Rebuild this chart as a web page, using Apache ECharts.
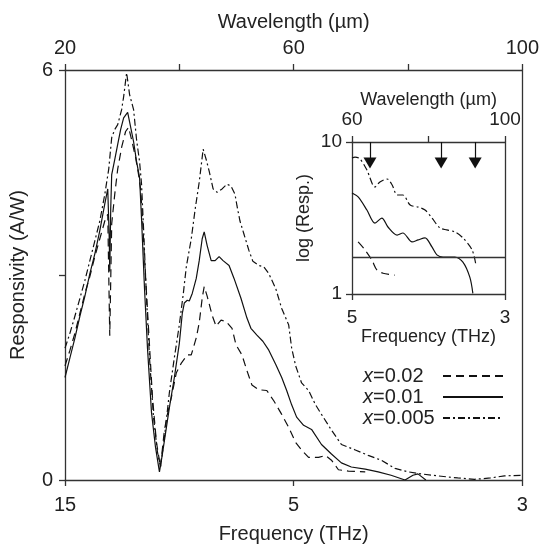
<!DOCTYPE html>
<html><head><meta charset="utf-8">
<script src="https://cdn.jsdelivr.net/npm/echarts@6/dist/echarts.min.js"></script>
<style>html,body{margin:0;padding:0;background:#fff}#c{width:542px;height:549px}</style>
</head><body><div id="c"></div>
<script>
// ---- data (wavelength in µm, responsivity in A/W) ----
const seriesNames = ['x=0.02', 'x=0.01', 'x=0.005'];

const main002 = [[20,1.67],[20.87,1.90],[21.74,2.15],[22.61,2.44],[23.48,2.73],[24.35,2.98],[25.22,3.27],[26.09,3.53],[26.96,3.79],[27.48,3.89],[27.83,2.11],[28.17,3.75],[28.70,4.18],[29.22,4.55],[29.91,4.87],[30.6,5.10],[31.13,5.16],[31.65,4.98],[32.35,4.72],[32.87,4.47],[33.22,4.26],[33.57,3.82],[33.91,3.24],[34.61,2.22],[35.30,1.21],[36.0,0.55],[36.7,0.19],[37.39,0.73],[37.91,0.96],[38.61,1.21],[39.48,1.57],[40.35,1.71],[41.39,1.83],[42.09,1.83],[42.96,2.08],[43.48,2.30],[44.0,2.66],[44.35,2.83],[44.87,2.69],[45.74,2.41],[46.43,2.25],[47.30,2.34],[48.17,2.32],[49.22,2.22],[49.91,1.98],[50.96,1.83],[51.83,1.60],[52.70,1.39],[53.91,1.32],[55.30,1.31],[56.52,1.16],[57.91,0.96],[59.13,0.77],[60.35,0.55],[61.39,0.44],[62.61,0.33],[64.35,0.33],[65.57,0.36],[66.61,0.29],[67.83,0.15],[69.57,0.13],[72.52,0.12]];

const main001 = [[20,1.50],[20.87,1.79],[21.74,2.08],[22.61,2.40],[23.48,2.69],[24.35,3.02],[25.22,3.31],[26.09,3.65],[26.96,4.04],[27.48,4.26],[27.74,3.53],[27.83,3.05],[28.0,3.97],[28.17,4.47],[28.70,4.69],[29.22,4.91],[29.74,5.13],[30.26,5.30],[30.96,5.38],[31.30,5.24],[32.0,4.95],[32.52,4.66],[33.04,4.43],[33.39,3.82],[33.91,2.80],[34.43,1.93],[35.13,0.99],[35.83,0.48],[36.52,0.12],[37.04,0.38],[37.74,0.77],[38.26,1.06],[39.13,1.50],[40,2.00],[40.52,2.44],[40.87,2.59],[41.39,2.63],[41.74,2.62],[42.26,2.73],[42.96,2.95],[43.48,3.21],[44.0,3.53],[44.35,3.63],[44.87,3.43],[45.57,3.21],[46.26,3.21],[46.96,3.27],[47.65,3.21],[48.70,3.14],[49.57,2.95],[50.78,2.66],[51.83,2.37],[52.52,2.22],[53.57,2.12],[54.61,2.03],[55.65,1.90],[56.87,1.69],[57.91,1.50],[58.78,1.31],[59.65,1.10],[60.52,0.92],[61.74,0.80],[63.13,0.74],[64.87,0.52],[66.61,0.38],[68.35,0.25],[70.09,0.19],[72.52,0.16],[74.78,0.12],[77.04,0.07],[79.48,0],[80.87,0.07],[81.74,0.09],[83.13,0]];

const main0005 = [[20,1.93],[20.87,2.15],[21.74,2.40],[22.61,2.66],[23.48,2.92],[24.35,3.21],[25.22,3.50],[26.09,3.79],[26.96,4.18],[27.65,4.55],[28.17,5.01],[28.70,5.13],[29.22,5.20],[29.91,5.42],[30.26,5.61],[30.78,5.96],[31.30,5.64],[32.0,5.42],[32.52,4.98],[33.04,4.66],[33.39,4.33],[33.74,3.68],[34.26,2.66],[34.78,1.79],[35.48,0.92],[36.17,0.41],[36.7,0.19],[37.39,0.62],[38.26,1.28],[39.13,1.79],[40,2.27],[40.70,2.73],[41.22,3.12],[42.09,3.53],[42.78,3.97],[43.48,4.36],[44.17,4.84],[44.70,4.69],[45.22,4.52],[45.91,4.26],[46.61,4.21],[47.48,4.26],[48.35,4.33],[49.04,4.30],[49.74,4.18],[50.09,4.01],[50.61,3.79],[51.30,3.60],[52.17,3.36],[52.87,3.20],[53.91,3.14],[54.78,3.12],[55.65,3.02],[56.87,2.80],[57.91,2.51],[59.13,2.27],[59.65,1.93],[60.35,1.67],[61.39,1.42],[62.61,1.31],[63.83,1.10],[64.87,0.96],[66.61,0.73],[68.35,0.52],[70.78,0.44],[73.04,0.36],[75.30,0.29],[77.74,0.17],[80,0.12],[82.26,0.09],[85.22,0.06],[88.70,0.03],[91.65,0.01],[94.43,0.03],[96.87,0.06],[100,0.07]];

// inset: log(Resp.) vs wavelength
const inset002 = [[61.6,2.20],[63.4,1.95],[65.2,1.67],[66.5,1.44],[68.1,1.37],[71.2,1.33]];
const inset001 = [[60,4.62],[61.6,4.35],[63.9,3.57],[66.0,2.93],[67.8,3.16],[69.4,2.76],[71.8,2.44],[73.3,2.52],[75.7,2.20],[77.3,2.27],[79.1,2.34],[80.9,2.04],[82.2,1.81],[83.8,1.75],[86.9,1.75],[89.0,1.62],[90.8,1.29],[91.6,1.01]];
const inset0005 = [[60,7.85],[60.8,7.96],[62.1,7.73],[63.9,6.54],[66.0,5.06],[67.3,5.46],[69.2,5.71],[70.5,5.21],[71.8,4.48],[73.3,4.48],[75.2,3.85],[77.3,3.73],[79.1,3.57],[80.9,3.16],[83.0,2.72],[84.8,2.64],[86.9,2.56],[89.0,2.34],[91.4,1.95],[92.4,1.55]];
const insetThreshold = 1.75;
const arrowWavelengths = [64.7, 83.3, 92.2];
const arrowTop = 10, arrowEnd = 7.27;

// tick labels (bottom axes are labelled as frequency = 300/λ)
const mainTopLabels = [20, 60, 100];
const insetTopLabels = [60, 100];

// ---- styles ----
const FONT = "'Liberation Sans', Arial, sans-serif";
const TXT = '#222';
const AX = '#333';
const LINE = '#111';
const styles = {
  'x=0.02': {type: [8, 5]},
  'x=0.01': {type: 'solid'},
  'x=0.005': {type: [7, 3, 2, 3]}
};
const axLine = {show: true, onZero: false, lineStyle: {color: AX, width: 1.3}};
const tick = len => ({show: true, length: len, lineStyle: {color: AX, width: 1.3}});
const toFreq = v => String(Math.round(300 / v));

function lineSeries(name, data, xi, yi, extra) {
  return Object.assign({
    type: 'line', name, data, xAxisIndex: xi, yAxisIndex: yi,
    symbol: 'none', silent: true, animation: false,
    itemStyle: {color: LINE},
    lineStyle: {color: LINE, width: 1.2, type: styles[name].type}
  }, extra || {});
}

const chart = echarts.init(document.getElementById('c'));
chart.setOption({
  backgroundColor: '#fff',
  animation: false,
  textStyle: {fontFamily: FONT, color: TXT},
  grid: [
    {left: 65, right: 16, top: 70, bottom: 65},
    {left: 352, right: 37, top: 142, bottom: 255, show: true, backgroundColor: '#fff', borderWidth: 0}
  ],
  legend: {
    data: seriesNames, orient: 'vertical', left: 363, top: 366, align: 'right',
    itemWidth: 60, itemHeight: 14, itemGap: 1, padding: 0,
    itemStyle: {opacity: 0},
    formatter: n => '{i|x}{n|' + n.slice(1) + '}',
    textStyle: {width: 75, align: 'left', color: TXT, fontFamily: FONT,
      rich: {i: {fontStyle: 'italic', fontSize: 20, lineHeight: 22, fontFamily: FONT, color: TXT, align: 'left'},
             n: {fontSize: 20, lineHeight: 22, fontFamily: FONT, color: TXT, align: 'left'}}}
  },
  xAxis: [
    {gridIndex: 0, type: 'value', position: 'bottom', min: 20, max: 100, interval: 40,
     axisLine: axLine, axisTick: tick(6),
     axisLabel: {formatter: toFreq, fontSize: 20, margin: 15, color: TXT, fontFamily: FONT},
     splitLine: {show: false},
     name: 'Frequency (THz)', nameLocation: 'middle', nameGap: 44,
     nameTextStyle: {fontSize: 20, color: TXT, fontFamily: FONT}},
    {gridIndex: 0, type: 'value', position: 'top', min: 20, max: 100, interval: 20,
     axisLine: axLine, axisTick: tick(6),
     axisLabel: {customValues: mainTopLabels, fontSize: 20, margin: 12, color: TXT, fontFamily: FONT},
     splitLine: {show: false},
     name: 'Wavelength (\u00b5m)', nameLocation: 'middle', nameGap: 38,
     nameTextStyle: {fontSize: 20, color: TXT, fontFamily: FONT}},
    {gridIndex: 1, type: 'value', position: 'bottom', min: 60, max: 100, interval: 40,
     axisLine: axLine, axisTick: tick(6),
     axisLabel: {formatter: toFreq, fontSize: 19, margin: 14, color: TXT, fontFamily: FONT},
     splitLine: {show: false},
     name: 'Frequency (THz)', nameLocation: 'middle', nameGap: 34,
     nameTextStyle: {fontSize: 18, color: TXT, fontFamily: FONT}},
    {gridIndex: 1, type: 'value', position: 'top', min: 60, max: 100, interval: 20,
     axisLine: axLine, axisTick: tick(6),
     axisLabel: {customValues: insetTopLabels, fontSize: 19, margin: 13, color: TXT, fontFamily: FONT},
     splitLine: {show: false},
     name: 'Wavelength (\u00b5m)', nameLocation: 'middle', nameGap: 32,
     nameTextStyle: {fontSize: 18, color: TXT, fontFamily: FONT}}
  ],
  yAxis: [
    {gridIndex: 0, type: 'value', position: 'left', min: 0, max: 6, interval: 3,
     axisLine: axLine, axisTick: tick(6),
     axisLabel: {formatter: v => (v === 3 ? '' : String(v)), fontSize: 20, margin: 12, color: TXT, fontFamily: FONT},
     splitLine: {show: false},
     name: 'Responsivity (A/W)', nameLocation: 'middle', nameGap: 37,
     nameTextStyle: {fontSize: 20, color: TXT, fontFamily: FONT}},
    {gridIndex: 0, type: 'value', position: 'right', min: 0, max: 6, interval: 3,
     axisLine: axLine, axisTick: {show: false}, axisLabel: {show: false}, splitLine: {show: false}},
    {gridIndex: 1, type: 'log', logBase: 10, position: 'left', min: 1, max: 10,
     axisLine: axLine, axisTick: tick(6),
     axisLabel: {fontSize: 19, margin: 10, color: TXT, fontFamily: FONT},
     splitLine: {show: false},
     name: 'log (Resp.)', nameLocation: 'middle', nameGap: 39,
     nameTextStyle: {fontSize: 18, color: TXT, fontFamily: FONT}},
    {gridIndex: 1, type: 'log', logBase: 10, position: 'right', min: 1, max: 10,
     axisLine: axLine, axisTick: {show: false}, axisLabel: {show: false}, splitLine: {show: false}}
  ],
  series: [
    lineSeries('x=0.02', main002, 0, 0),
    lineSeries('x=0.01', main001, 0, 0),
    lineSeries('x=0.005', main0005, 0, 0),
    lineSeries('x=0.02', inset002, 2, 2, {smooth: 0.3}),
    lineSeries('x=0.01', inset001, 2, 2, {smooth: 0.3,
      markLine: {silent: true, symbol: 'none', label: {show: false}, animation: false,
        lineStyle: {color: AX, width: 1.3, type: 'solid'},
        data: [{yAxis: insetThreshold}]}}),
    lineSeries('x=0.005', inset0005, 2, 2, {smooth: 0.3,
      markLine: {silent: true, symbol: ['none', 'triangle'], symbolSize: [13, 11],
        label: {show: false}, animation: false,
        lineStyle: {color: '#111', width: 1.2, type: 'solid'},
        itemStyle: {color: '#111'},
        data: arrowWavelengths.map(w => [{coord: [w, arrowTop]}, {coord: [w, arrowEnd]}])}})
  ]
});
</script>
</body></html>
